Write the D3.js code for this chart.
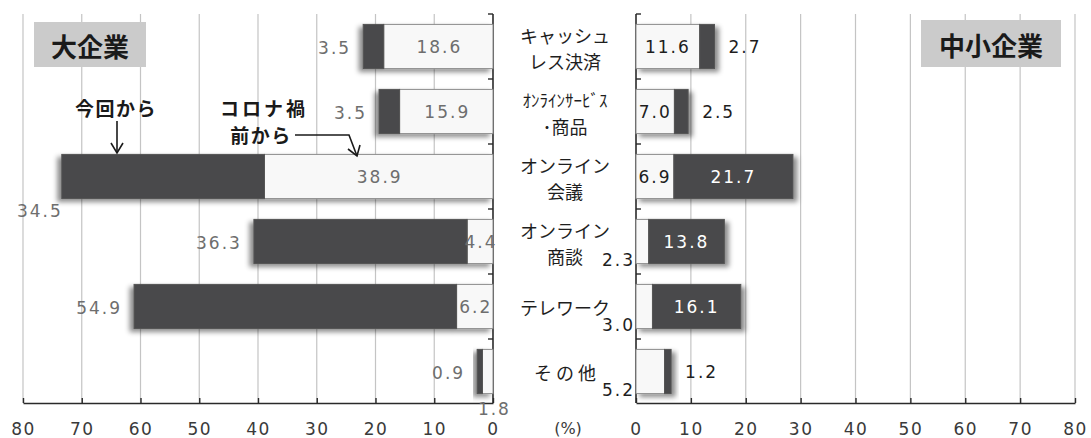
<!DOCTYPE html>
<html>
<head>
<meta charset="utf-8">
<script src="https://cdn.jsdelivr.net/npm/d3@7"></script>
<style>
  html, body { margin: 0; padding: 0; background: #fff; }
  svg { display: block; }
  .num { font-family: "DejaVu Sans", sans-serif; font-size: 17px; letter-spacing: 2px; }
  .cat { font-family: "Noto Sans CJK JP", sans-serif; font-size: 18px; fill: #1e1e1e; }
</style>
</head>
<body>
<svg id="chart" width="1091" height="438"></svg>
<script>
// Categories (two-line labels in the centre column)
const categories = [
  ["キャッシュ", "レス決済"],
  ["ｵﾝﾗｲﾝｻｰﾋﾞｽ", "･商品"],
  ["オンライン", "会議"],
  ["オンライン", "商談"],
  ["テレワーク"],
  ["そ の 他"]
];

// 大企業 (%)
const largeBefore = [18.6, 15.9, 38.9, 4.4, 6.2, 1.8];   // コロナ禍前から
const largeNow    = [3.5, 3.5, 34.5, 36.3, 54.9, 0.9];   // 今回から

// 中小企業 (%)
const smeBefore = [11.6, 7.0, 6.9, 2.3, 3.0, 5.2];        // コロナ禍前から
const smeNow    = [2.7, 2.5, 21.7, 13.8, 16.1, 1.2];      // 今回から

const tickValues = [0, 10, 20, 30, 40, 50, 60, 70, 80];

// Where each value label sits relative to its segment
const largeBeforeMode = ["in", "in", "in", "in", "in", "below"];
const largeNowMode    = ["out", "out", "below", "out", "out", "out"];
const smeBeforeMode   = ["in", "in", "in", "axis", "axis", "axis"];
const smeNowMode      = ["out", "out", "in", "in", "in", "out"];

const svg = d3.select("#chart");

const C = {
  dark: "#4a4a4c",
  light: "#f8f8f8",
  edge: "#8c8c8c",
  grid: "#c4c4c4",
  axis: "#2a2a2a",
  greyText: "#6e6e6e",
  text: "#1e1e1e"
};

const yTop = 14, yBottom = 404;
const xL = d3.scaleLinear().domain([0, 80]).range([493, 23]);
const xR = d3.scaleLinear().domain([0, 80]).range([636, 1075]);
const y = d3.scaleBand().domain(d3.range(categories.length))
  .range([yTop, yBottom]).paddingInner(0.32).paddingOuter(0.16);

// Soft drop shadows under the bars
const defs = svg.append("defs");
function shadow(id, dx) {
  const f = defs.append("filter").attr("id", id)
    .attr("x", "-20%").attr("y", "-30%").attr("width", "140%").attr("height", "170%");
  f.append("feDropShadow").attr("dx", dx).attr("dy", 3)
    .attr("stdDeviation", 2.6).attr("flood-color", "#000").attr("flood-opacity", 0.45);
}
shadow("shL", -4);
shadow("shR", 4);

// Vertical grid lines
function grid(x) {
  svg.append("g").selectAll("line")
    .data(tickValues.filter(d => d !== 0))
    .join("line")
    .attr("x1", d => x(d)).attr("x2", d => x(d))
    .attr("y1", yTop).attr("y2", 403)
    .attr("stroke", C.grid).attr("stroke-width", 1.2);
}
grid(xL);
grid(xR);

// Bottom axes
function bottomAxis(x) {
  const g = svg.append("g").attr("transform", "translate(0,403)")
    .call(d3.axisBottom(x).tickValues(tickValues).tickSize(-5).tickPadding(20).tickSizeOuter(0));
  g.select(".domain").attr("stroke", C.axis).attr("stroke-width", 1.6);
  g.selectAll(".tick line").attr("stroke", C.axis).attr("stroke-width", 1.4);
  g.selectAll(".tick text")
    .attr("font-family", "DejaVu Sans, sans-serif")
    .attr("font-size", 17).attr("letter-spacing", 1.5)
    .attr("fill", "#3a3a3a");
  return g;
}
bottomAxis(xL);
bottomAxis(xR);

// Vertical category axes with ticks at row boundaries
const bounds = d3.range(categories.length + 1).map(i => yTop + i * y.step());
function catAxis(x0, dir) {
  const g = svg.append("g");
  g.append("line").attr("x1", x0).attr("x2", x0).attr("y1", yTop).attr("y2", 403)
    .attr("stroke", C.axis).attr("stroke-width", 1.6);
  g.selectAll("line.t").data(bounds.slice(0, -1)).join("line").attr("class", "t")
    .attr("x1", x0).attr("x2", x0 + dir * 5)
    .attr("y1", d => d).attr("y2", d => d)
    .attr("stroke", C.axis).attr("stroke-width", 1.4);
}
catAxis(xL(0), -1);
catAxis(xR(0), 1);

// Bars
function drawBars(x, before, now, filterId) {
  const rows = svg.append("g").selectAll("g")
    .data(categories.map((c, i) => ({ i, b: before[i], n: now[i] })))
    .join("g").attr("filter", `url(#${filterId})`);
  rows.append("rect")
    .attr("x", d => Math.min(x(0), x(d.b)))
    .attr("width", d => Math.abs(x(d.b) - x(0)))
    .attr("y", d => y(d.i)).attr("height", y.bandwidth())
    .attr("fill", C.light).attr("stroke", C.edge).attr("stroke-width", 1);
  rows.append("rect")
    .attr("x", d => Math.min(x(d.b), x(d.b + d.n)))
    .attr("width", d => Math.abs(x(d.b + d.n) - x(d.b)))
    .attr("y", d => y(d.i)).attr("height", y.bandwidth())
    .attr("fill", C.dark).attr("stroke", "#555").attr("stroke-width", 1);
}
drawBars(xL, largeBefore, largeNow, "shL");
drawBars(xR, smeBefore, smeNow, "shR");

const fmt = d3.format(".1f");
const labels = svg.append("g");
function label(txt, px, py, anchor, fill) {
  labels.append("text").attr("class", "num")
    .attr("x", px).attr("y", py).attr("text-anchor", anchor)
    .attr("dominant-baseline", "central").attr("fill", fill).text(txt);
}

// 大企業 labels
categories.forEach((c, i) => {
  const cy = y(i) + y.bandwidth() / 2;
  const b = largeBefore[i], n = largeNow[i];
  if (largeBeforeMode[i] === "in") {
    label(fmt(b), (xL(0) + xL(b)) / 2 + 1, cy, "middle", C.greyText);
  } else {
    label(fmt(b), xL(b) + 12, y(i) + y.bandwidth() + 15, "middle", C.greyText);
  }
  if (largeNowMode[i] === "out") {
    label(fmt(n), xL(b + n) - 12, cy + 1, "end", C.greyText);
  } else {
    label(fmt(n), xL(b + n) + 1, y(i) + y.bandwidth() + 12, "end", C.greyText);
  }
});

// 中小企業 labels
categories.forEach((c, i) => {
  const cy = y(i) + y.bandwidth() / 2;
  const b = smeBefore[i], n = smeNow[i];
  if (smeBeforeMode[i] === "in") {
    label(fmt(b), (xR(0) + xR(b)) / 2, cy, "middle", C.text);
  } else {
    label(fmt(b), xR(0) - 1, y(i) + y.bandwidth() - 4, "end", C.text);
  }
  if (smeNowMode[i] === "in") {
    label(fmt(n), (xR(b) + xR(b + n)) / 2, cy, "middle", "#ffffff");
  } else {
    label(fmt(n), xR(b + n) + 14, cy, "start", C.text);
  }
});

// Category names in the centre column
const midX = 565;
categories.forEach((lines, i) => {
  const cy = y(i) + y.bandwidth() / 2;
  const t = svg.append("text").attr("class", "cat").attr("text-anchor", "middle");
  if (lines.length === 1) {
    t.append("tspan").attr("x", midX).attr("y", cy).attr("dominant-baseline", "central").text(lines[0]);
  } else {
    lines.forEach((s, k) => {
      t.append("tspan").attr("x", midX).attr("y", cy + (k === 0 ? -12 : 14))
        .attr("dominant-baseline", "central")
        .attr("font-size", s.startsWith("ｵ") ? 17 : 18)
        .text(s);
    });
  }
});

// Unit
svg.append("text").attr("x", 568).attr("y", 428)
  .attr("text-anchor", "middle").attr("dominant-baseline", "central")
  .attr("font-family", "DejaVu Sans, sans-serif").attr("font-size", 16)
  .attr("fill", "#3a3a3a").text("(%)");

// Panel titles
function title(txt, x0, y0, w, h, fs) {
  svg.append("rect").attr("x", x0).attr("y", y0).attr("width", w).attr("height", h).attr("fill", "#cbcbcb");
  svg.append("text").attr("x", x0 + w / 2).attr("y", y0 + h / 2 + 1)
    .attr("text-anchor", "middle").attr("dominant-baseline", "central")
    .attr("font-family", "Noto Sans CJK JP, sans-serif").attr("font-weight", 700)
    .attr("font-size", fs).attr("fill", "#1a1a1a").text(txt);
}
title("大企業", 34, 22, 112, 45, 26);
title("中小企業", 921, 20, 140, 47, 26);

// Legend annotations with arrows
const ann = svg.append("g").attr("font-family", "Noto Sans CJK JP, sans-serif")
  .attr("font-weight", 700).attr("font-size", 19).attr("fill", "#1a1a1a");
ann.append("text").attr("x", 116).attr("y", 107).attr("text-anchor", "middle")
  .attr("dominant-baseline", "central").attr("letter-spacing", 1.5).text("今回から");
ann.append("text").attr("x", 264).attr("y", 107).attr("text-anchor", "middle")
  .attr("dominant-baseline", "central").attr("letter-spacing", 3).text("コロナ禍");
ann.append("text").attr("x", 261).attr("y", 134).attr("text-anchor", "middle")
  .attr("dominant-baseline", "central").attr("letter-spacing", 1.5).text("前から");

const arrow = svg.append("g").attr("fill", "none").attr("stroke", "#1a1a1a").attr("stroke-width", 1.6);
arrow.append("line").attr("x1", 117).attr("y1", 121).attr("x2", 117).attr("y2", 153);
arrow.append("polyline").attr("points", "111,143 117,153 123,143");
arrow.append("polyline").attr("points", "295,135 349,135 357,156");
arrow.append("polyline").attr("points", "348,149 357,156 360,145");
</script>
</body>
</html>
